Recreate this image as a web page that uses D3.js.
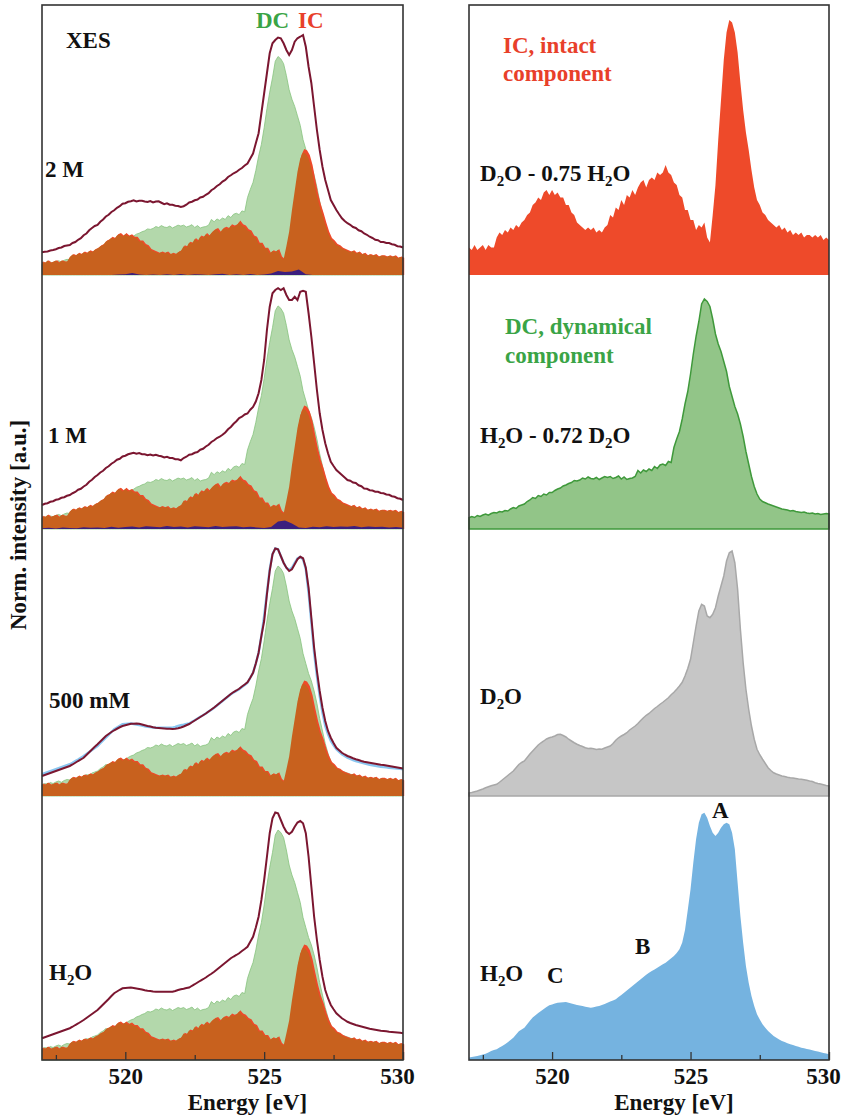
<!DOCTYPE html>
<html>
<head>
<meta charset="utf-8">
<script src="https://cdn.jsdelivr.net/npm/d3@7"></script>
<style>
  body { margin: 0; background: #fff; }
  svg text { font-family: "Liberation Serif", "Times New Roman", serif; font-weight: bold; }
</style>
</head>
<body>
<svg id="chart" width="845" height="1115"></svg>
<script>
// energy grid: 517.0 .. 530.0 eV, step 0.1
const eStart = 517, eStep = 0.1;

// IC, intact component (D2O - 0.75 H2O)
const ic = [
  11,10,12,10,11,12,10,12,11,11,
  15,17,16,18,17,19,18,20,19,21,
  22,24,25,28,29,31,30,33,34,32,
  34,32,33,31,31,28,28,25,24,21,
  20,19,18,19,18,19,17,18,17,19,
  20,24,23,27,26,30,28,32,31,34,
  32,35,37,38,35,38,39,38,41,40,
  41,44,41,40,37,36,32,31,26,26,
  22,22,18,20,19,21,15,13,24,36,
  54,70,86,97,102,101,97,89,77,66,
  57,50,42,35,30,28,25,24,22,21,
  20,19,20,18,19,17,18,16,17,16,
  17,15,16,16,15,16,15,16,14,15,
  14];

// DC, dynamical component (H2O - 0.72 D2O)
const dc = [
  4.5,5,4.6,5.4,5,5.6,6,5.5,6.2,6.6,
  6.4,7,6.8,7.4,7.2,8,8.6,8.2,9.2,9.6,
  10,11,11.6,12.6,12.2,13.4,13,14,13.6,14.6,
  14.6,15.4,16,16.4,17.2,17.6,18.2,18.6,19.4,19.2,
  19.6,20.4,20,20.8,20.2,20,20.6,19.8,20.4,21,
  20.6,21,20.2,20.6,21.2,20,20.8,19.8,20.2,20.4,
  21,23.4,22.4,23.6,23,24,23.4,25,24.2,25.6,
  26,25.4,27,26.6,32.6,36,39,44,50,55,
  62,70,77,83,90,92,91,89,84,78,
  74,71,67,63,57,53,49,46,42,37,
  31,26,21,17,14,12,11,10.5,10,9.6,
  9.2,8.8,8.4,8,7.8,7.6,7.2,7.4,7,6.8,
  6.6,6.8,6.4,6.2,6.4,6,6.2,5.8,6,6.2,
  6];

const d2o = [
  1.2,1.4,1.7,2,2.4,2.8,3.3,3.7,4.1,4.4,
  4.7,5.5,6.4,7.3,8.2,9.1,10,11.3,12.6,13.4,
  14,15.4,16.8,18,19.2,20.4,21.3,22,22.8,23.3,
  23.6,24,24.6,24.7,24.2,23.6,22.7,22,21.3,20.7,
  20.2,19.8,19.3,19,19.1,18.9,18.6,18.8,18.7,19.2,
  19.6,20,21,22.3,23.3,24,24.6,25.3,26.4,27.2,
  28,29,30.2,31.3,32.3,33,34,35,35.8,36.7,
  37.5,38.4,39.3,40.5,41.5,42.7,44,45.5,48,51,
  54.7,61.3,68,74,76.7,76,72,71.3,72.7,75.3,
  80,84,88,94,97.3,98,93.3,82.7,66.7,53.3,
  42.7,34.7,28,22.7,18.7,16.5,14.7,13,11.3,10.2,
  9.3,8.8,8.4,8,7.8,7.5,7.3,7.2,7,6.8,
  6.7,6.5,6.3,6,5.8,5.3,5,4.8,4.5,4.2,
  4];

const h2o = [
  1,1.2,1.4,1.6,1.9,2.2,2.5,3,3.6,4,
  4.3,5,5.6,6.3,7.1,8,8.9,10.2,11.5,12.2,
  12.9,14.3,15.7,17,17.9,18.8,19.6,20.4,21.2,21.9,
  22.2,22.6,22.9,23,23.1,23.2,22.9,22.6,22.3,22,
  21.8,21.6,21.3,21.1,20.9,21.1,21.4,21.6,22,22.4,
  22.9,23.4,23.8,24.3,25.2,26,26.9,27.8,28.7,29.6,
  30.5,31.4,32.3,33.2,34.1,34.9,35.6,36.2,36.9,37.6,
  38.3,38.9,39.8,40.7,41.6,42.8,44.3,47,52,60,
  68.3,78.9,88.3,94.9,98.3,98.9,96.9,93.6,90.9,89.6,
  90.9,92.9,94.3,94.9,94.3,90.9,84.3,70.9,57.6,46.9,
  37.6,30.9,25.6,21.6,18.3,16.2,14.3,12.9,11.6,10.6,
  9.6,8.9,8.2,7.6,7.2,6.7,6.3,6,5.6,5.3,
  4.9,4.7,4.4,4.2,3.9,3.6,3.4,3.1,2.8,2.6,
  2.3];

// XES of the solutions (left column)
const s2M = [
  9.1,9.3,9.4,9.8,10,10.3,10.8,11,11.6,11.8,
  12,12.8,13.2,14.1,14.7,15.9,16.6,17.9,18.8,19.6,
  20,21.3,22.2,23.4,24.1,25.2,25.9,26.9,27.5,28.5,
  28.7,29.3,29.5,29.9,29.4,29.7,29.7,29.4,29.2,29.6,
  29,29.4,29.5,28.9,28.3,28.7,28.1,28.1,27.7,27.6,
  27.2,27.5,28.1,29,29.3,29.9,30.2,31,31.3,32.1,
  32.7,33.9,34.6,35.6,36.3,37.4,38,39.2,39.9,40.7,
  41.2,42.1,42.8,43.8,44.6,46.6,48.6,52.7,56.7,64.7,
  72.7,80.7,88.7,92.7,94,95,94.7,92.7,90,88,
  90,93.3,94.7,95.3,96,91.3,83.3,76.7,67.3,58,
  50,43.3,38,34,30,28,26,24.3,22.7,21.6,
  20.7,20.1,19.2,18.8,17.9,17.5,16.6,16.1,15.3,14.8,
  14.1,13.9,13.2,13.2,12.8,12.8,12.3,12.1,11.5,11.4,
  11];

const s1M = [
  9.6,10.1,10.3,10.9,11.1,11.7,11.9,12.5,12.7,13.3,
  13.6,14.3,14.8,15.7,16.1,17,17.7,18.9,19.7,20.8,
  21.6,22.6,23.3,24.4,25.1,26.1,26.8,27.7,28.1,29,
  29.3,29.9,30.2,30.5,30.1,30.4,29.9,29.9,29.5,29.8,
  29.4,29.7,29.3,29.1,28.6,28.9,28.4,28.4,27.9,27.9,
  27.5,28.4,28.9,29.7,29.9,30.5,30.8,31.7,32.1,33,
  33.7,34.8,35.5,36.4,36.9,37.7,38.6,39.9,40.8,42.1,
  43.1,44.4,44.9,45.8,46.2,47.7,48.8,51,54.3,59.6,
  67.6,79.6,88.9,94.3,95.6,96.3,95.6,96.3,93.6,91.6,
  91.6,92.9,91.6,94.9,95.3,94.9,86.3,76.9,66.3,55.6,
  46.3,39.6,34.3,30.3,26.9,25.2,23.6,22.6,21.6,20.6,
  19.6,19.3,18.6,18.4,17.5,17.1,16.2,16.1,15.5,15.4,
  14.9,14.9,14.4,14.3,13.8,13.7,13.1,12.9,12.3,12.1,
  11.6];

const s500 = [
  8,8.4,8.8,9.2,9.6,10,10.4,10.8,11.2,11.6,
  12,12.6,13.3,14,14.6,15.3,16.4,17.5,18.6,19.7,
  20.7,21.8,22.9,24,24.8,25.6,26.3,26.9,27.5,28,
  28.3,28.6,28.9,28.9,29,28.9,28.6,28.3,28,27.8,
  27.5,27.3,27.2,27.1,27,26.9,26.9,26.8,26.9,27.1,
  27.4,27.8,28.3,28.8,29.5,30.2,30.9,31.6,32.3,33,
  33.8,34.6,35.4,36.3,37.2,38.1,39,39.9,40.8,41.6,
  42.2,42.9,43.8,44.6,45.5,47.3,49.3,53,57.3,64,
  70,80.7,90,96.7,99,98.7,96,93.3,91.3,90,
  90.7,92.7,94.7,95.7,95.1,91.3,83.3,71.3,59.3,50,
  42,35.3,30,26,23.3,21.2,19.3,18.3,17.3,16.6,
  16,15.6,15.1,14.7,14.4,14,13.7,13.5,13.3,13.1,
  12.9,12.7,12.5,12.4,12.2,12,11.8,11.6,11.4,11.2,
  11];

const sH2O = [
  8.7,9.1,9.5,9.9,10.3,10.7,11.1,11.5,11.9,12.3,
  12.7,13.3,14,14.6,15.3,16,16.8,17.6,18.4,19.2,
  20,21.1,22.2,23.3,24.4,25.6,26.7,27.4,28.1,28.7,
  28.8,28.9,29,28.8,28.6,28.4,28.2,27.9,27.7,27.6,
  27.4,27.3,27.3,27.3,27.3,27.3,27.3,27.3,27.6,28,
  28.3,28.5,28.8,29,29.7,30.3,31,31.7,32.3,33,
  33.8,34.5,35.3,36.2,37.1,38,38.9,39.8,40.7,41.4,
  42,42.7,43.6,44.4,45.3,47.3,49.3,53,57.3,64,
  72,81.3,90.7,96.7,99,98.7,96,93.3,91.3,90.4,
  91.3,93.3,95,95.6,94.7,90.7,81.3,69.3,57.3,48,
  40,33.3,28,24.7,22,20.3,18.7,17.7,16.7,16,
  15.3,14.8,14.4,14,13.7,13.4,13.1,12.8,12.5,12.3,
  12.1,11.9,11.7,11.6,11.5,11.3,11.2,11.1,11,10.9,
  10.7];

// fit residuals, grid 517.0 .. 530.0 step 0.25
const res2M = [
  0,0,0,0, 0,0,0,0, 0,0,0,0.2, 0.3,0.8,0.2,0, 0.2,0,0.3,0,
  0.4,0,0.3,0.2, 0,0.3,0.5,0, 0.3,0,0.4,0, 0.2,0.6,1.6,1.2,
  1.4,2.2,0.3,0, 0,0,0,0, 0,0,0,0, 0,0,0,0, 0];
const res1M = [
  0.3,0.5,0.2,0.6, 0.4,0.3,0.7,0.5, 0.6,0.4,0.9,0.5, 0.8,1.0,0.6,1.1,
  0.9,0.7,1.2,0.8, 1.0,0.6,1.1,0.9, 0.7,1.2,0.8,1.0, 1.1,0.7,0.9,0.6,
  0.4,0.8,3.0,3.4, 2.2,0.6,0.4,0.9, 0.7,1.1,0.8,1.0, 0.9,1.2,0.7,1.0,
  0.8,0.9,0.6,0.8, 0.5];

// fit weights of DC and IC in each solution spectrum
const leftNames = ["2 M", "1 M", "500 mM", "H2O"];
const leftSpectra = [s2M, s1M, s500, sH2O];
const dcWeights = [0.95, 0.97, 1.0, 1.0];
const icWeights = [0.48, 0.47, 0.44, 0.44];
const leftResiduals = [res2M, res1M, null, null];

const majorTicks = [520, 525, 530];
const minorTicks = [517.5, 522.5, 527.5];

const energy = ic.map((v, i) => eStart + i * eStep);
const resEnergy = res1M.map((v, i) => eStart + i * 0.25);

///////////////////////////////////////
// layout
///////////////////////////////////////
const svg = d3.select("#chart");
const frameTop = 5, frameBottom = 1060;
const bottoms = [275, 529, 796, 1060];
const panelSpan = 250; // 100 units
const colors = {
  maroon: "#7b1630",
  green: "#b3d8ab",
  greenLine: "#86c37d",
  orange: "#c8611e",
  red: "#ee4a2a",
  purple: "#3b1f7e",
  lightBlue: "#8ac6f0",
  dcGreen: "#92c588",
  dcLine: "#3f993b",
  gray: "#c6c6c6",
  grayLine: "#a8a8a8",
  blue: "#75b3e0",
  labelGreen: "#3aa446",
  labelRed: "#e8402a"
};

const xL = d3.scaleLinear().domain([517, 530]).range([42, 403]);
const xR = d3.scaleLinear().domain([517, 530]).range([469, 829]);

const yPanel = (i, weight = 1) => d3.scaleLinear()
  .domain([0, 100 / weight])
  .range([bottoms[i], bottoms[i] - panelSpan]);

const areaOf = (x, y, xs) => d3.area()
  .x((d, j) => x(xs[j]))
  .y0(y(0))
  .y1(d => y(d));
const lineOf = (x, y, xs) => d3.line()
  .x((d, j) => x(xs[j]))
  .y(d => y(d));

// left column: solutions with DC / IC decomposition
const left = svg.append("g").attr("class", "left");
leftSpectra.forEach((spec, i) => {
  const g = left.append("g");
  const yDC = yPanel(i, dcWeights[i]);
  const yIC = yPanel(i, icWeights[i]);
  const yRed = yPanel(i, icWeights[i] * 1.03);
  const y = yPanel(i);

  g.append("path").datum(dc)
    .attr("d", areaOf(xL, yDC, energy))
    .attr("fill", colors.green)
    .attr("stroke", colors.greenLine)
    .attr("stroke-width", 0.8);
  g.append("path").datum(ic)
    .attr("d", areaOf(xL, yRed, energy))
    .attr("transform", "translate(1.2,0)")
    .attr("fill", colors.red);
  g.append("path").datum(ic)
    .attr("d", areaOf(xL, yIC, energy))
    .attr("fill", colors.orange);
  if (leftResiduals[i]) {
    g.append("path").datum(leftResiduals[i])
      .attr("d", areaOf(xL, y, resEnergy))
      .attr("fill", colors.purple);
  }
  if (i === 2) {
    g.append("path").datum(sH2O)
      .attr("d", lineOf(xL, y, energy))
      .attr("fill", "none")
      .attr("stroke", colors.lightBlue)
      .attr("stroke-width", 2.4);
  }
  g.append("path").datum(spec)
    .attr("d", lineOf(xL, y, energy))
    .attr("fill", "none")
    .attr("stroke", colors.maroon)
    .attr("stroke-width", 2);
});

// right column: components and references
const rightSeries = [ic, dc, d2o, h2o];
const rightFill = [colors.red, colors.dcGreen, colors.gray, colors.blue];
const rightStroke = [null, colors.dcLine, colors.grayLine, null];
const right = svg.append("g").attr("class", "right");
rightSeries.forEach((s, i) => {
  const y = yPanel(i);
  right.append("path").datum(s)
    .attr("d", areaOf(xR, y, energy))
    .attr("fill", rightFill[i])
    .attr("stroke", rightStroke[i] || "none")
    .attr("stroke-width", 1.5);
});

// frames
[xL, xR].forEach(x => {
  svg.append("rect")
    .attr("x", x.range()[0]).attr("y", frameTop)
    .attr("width", x.range()[1] - x.range()[0])
    .attr("height", frameBottom - frameTop)
    .attr("fill", "none")
    .attr("stroke", "#333")
    .attr("stroke-width", 1.6);
});

// axes
[xL, xR].forEach(x => {
  const major = svg.append("g")
    .attr("transform", "translate(0," + frameBottom + ")")
    .call(d3.axisBottom(x).tickValues(majorTicks).tickSize(-8).tickPadding(8)
      .tickFormat(d3.format("d")));
  major.select(".domain").remove();
  major.selectAll("line").attr("stroke", "#333").attr("stroke-width", 1.3);
  major.selectAll("text")
    .attr("font-size", 23).attr("fill", "#111")
    .attr("dx", d => d === 530 ? -6 : 0)
    .style("font-family", "'Liberation Serif', serif").style("font-weight", "bold");
  const minor = svg.append("g")
    .attr("transform", "translate(0," + frameBottom + ")")
    .call(d3.axisBottom(x).tickValues(minorTicks).tickSize(-5).tickFormat(""));
  minor.select(".domain").remove();
  minor.selectAll("line").attr("stroke", "#333").attr("stroke-width", 1.3);

  svg.append("text")
    .attr("x", (x.range()[0] + x.range()[1]) / 2 + 25)
    .attr("y", 1110)
    .attr("text-anchor", "middle")
    .attr("font-size", 23)
    .attr("fill", "#111")
    .text("Energy [eV]");
});

svg.append("text")
  .attr("transform", "translate(26,525) rotate(-90)")
  .attr("text-anchor", "middle")
  .attr("font-size", 23)
  .attr("fill", "#111")
  .text("Norm. intensity [a.u.]");

///////////////////////////////////////
// labels
///////////////////////////////////////
const addLabel = (x, y, parts, color = "#111", size = 23) => {
  const t = svg.append("text")
    .attr("x", x).attr("y", y)
    .attr("font-size", size)
    .attr("fill", color);
  let down = false;
  parts.forEach(p => {
    const sub = typeof p !== "string";
    const span = t.append("tspan").text(sub ? p.sub : p);
    if (sub) {
      span.attr("font-size", size * 0.65).attr("dy", 5);
      down = true;
    } else if (down) {
      span.attr("dy", -5);
      down = false;
    }
  });
};

addLabel(66, 48, ["XES"]);
addLabel(256, 28, ["DC"], colors.labelGreen);
addLabel(298, 28, ["IC"], colors.labelRed);

const leftLabelPos = [[45, 177], [48, 443], [49, 708], [49, 980]];
leftNames.forEach((n, i) => {
  const parts = n === "H2O" ? ["H", { sub: "2" }, "O"] : [n];
  addLabel(leftLabelPos[i][0], leftLabelPos[i][1], parts);
});

addLabel(503, 53, ["IC, intact"], colors.labelRed);
addLabel(503, 81, ["component"], colors.labelRed);
addLabel(480, 181, ["D", { sub: "2" }, "O - 0.75 H", { sub: "2" }, "O"]);
addLabel(505, 334, ["DC, dynamical"], colors.labelGreen);
addLabel(505, 363, ["component"], colors.labelGreen);
addLabel(480, 443, ["H", { sub: "2" }, "O - 0.72 D", { sub: "2" }, "O"]);
addLabel(480, 704, ["D", { sub: "2" }, "O"]);
addLabel(480, 981, ["H", { sub: "2" }, "O"]);
addLabel(547, 983, ["C"]);
addLabel(635, 954, ["B"]);
addLabel(712, 818, ["A"]);
</script>
</body>
</html>
